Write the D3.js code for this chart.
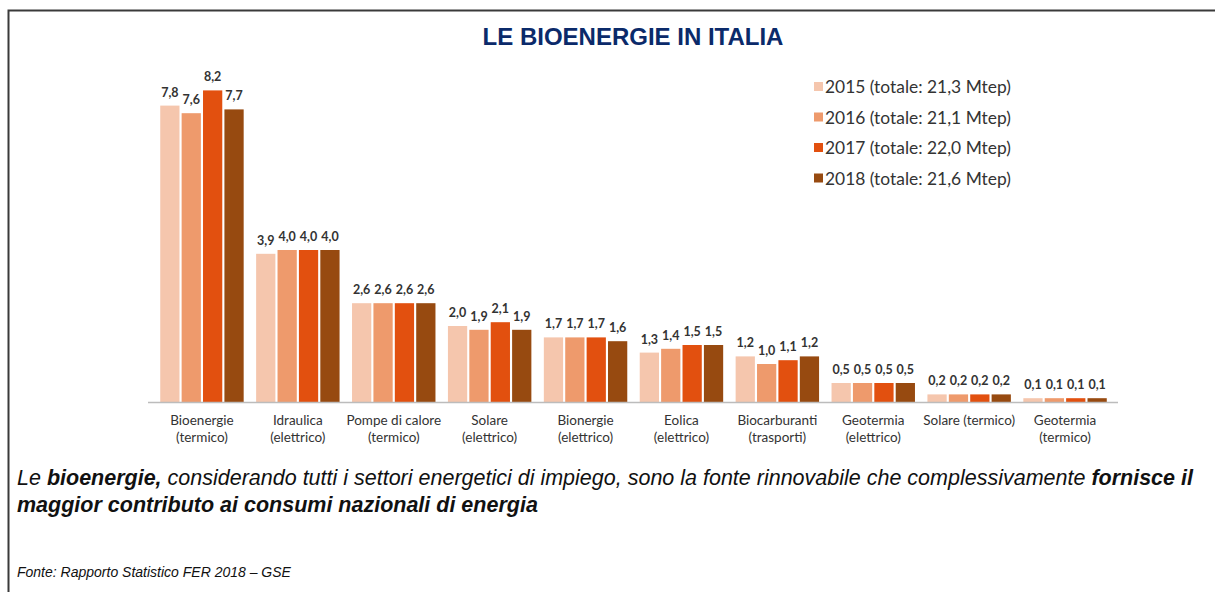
<!DOCTYPE html>
<html>
<head>
<meta charset="utf-8">
<script src="https://cdn.jsdelivr.net/npm/d3@7"></script>
<style>
  html, body { margin: 0; padding: 0; background: #fff; }
  svg { display: block; }
</style>
</head>
<body>
<div id="chart"></div>
<script>
// categories (two-line labels) and yearly values in Mtep
const categories = [
  ["Bioenergie", "(termico)"],
  ["Idraulica", "(elettrico)"],
  ["Pompe di calore", "(termico)"],
  ["Solare", "(elettrico)"],
  ["Bionergie", "(elettrico)"],
  ["Eolica", "(elettrico)"],
  ["Biocarburanti", "(trasporti)"],
  ["Geotermia", "(elettrico)"],
  ["Solare (termico)", ""],
  ["Geotermia", "(termico)"]
];
const years = ["2015", "2016", "2017", "2018"];
const totals = ["21,3", "21,1", "22,0", "21,6"];
const v2015 = [7.8, 3.9, 2.6, 2.0, 1.7, 1.3, 1.2, 0.5, 0.2, 0.1];
const v2016 = [7.6, 4.0, 2.6, 1.9, 1.7, 1.4, 1.0, 0.5, 0.2, 0.1];
const v2017 = [8.2, 4.0, 2.6, 2.1, 1.7, 1.5, 1.1, 0.5, 0.2, 0.1];
const v2018 = [7.7, 4.0, 2.6, 1.9, 1.6, 1.5, 1.2, 0.5, 0.2, 0.1];
const series = [v2015, v2016, v2017, v2018];
const colors = ["#f5c6ad", "#ee9a6c", "#e2500f", "#974a10"];

const width = 1215, height = 592;
const baseY = 402;

const svg = d3.select('#chart').append('svg')
    .attr('width', width)
    .attr('height', height);

// frame (top and left edge)
svg.append('path')
    .attr('d', `M8.5,${height} V10.5 H${width}`)
    .attr('fill', 'none')
    .attr('stroke', '#3a3a3a')
    .attr('stroke-width', 2);

// title
svg.append('text')
    .attr('x', 633).attr('y', 45)
    .attr('text-anchor', 'middle')
    .attr('font-family', 'Liberation Sans, Arial, sans-serif')
    .attr('font-weight', 'bold')
    .attr('font-size', 24)
    .attr('fill', '#0b2a6a')
    .text('LE BIOENERGIE IN ITALIA');

// scales
const x0 = d3.scaleBand()
    .domain(d3.range(categories.length))
    .range([154, 1113])
    .paddingInner(0.13)
    .paddingOuter(0.065);
const x1 = d3.scaleBand()
    .domain(years)
    .range([0, x0.bandwidth()])
    .paddingInner(0.1);
const y = d3.scaleLinear()
    .domain([0, 8.2])
    .range([baseY, baseY - 8.2 * 38]);

const fmt = v => d3.format('.1f')(v).replace('.', ',');

const groups = svg.append('g').selectAll('g.cat')
    .data(categories)
    .join('g')
    .attr('class', 'cat')
    .attr('transform', (d, i) => `translate(${x0(i)},0)`);

groups.selectAll('rect')
    .data((d, i) => years.map((yr, j) => ({yr, j, v: series[j][i]})))
    .join('rect')
    .attr('x', d => x1(d.yr))
    .attr('y', d => y(d.v))
    .attr('width', x1.bandwidth())
    .attr('height', d => baseY - y(d.v))
    .attr('fill', d => colors[d.j]);

groups.selectAll('text.val')
    .data((d, i) => years.map((yr, j) => ({yr, j, v: series[j][i]})))
    .join('text')
    .attr('class', 'val')
    .attr('x', d => x1(d.yr) + x1.bandwidth() / 2)
    .attr('y', d => y(d.v) - 9)
    .attr('text-anchor', 'middle')
    .attr('font-family', 'Lato, sans-serif')
    .attr('font-weight', 'bold')
    .attr('font-size', 12.5)
    .attr('fill', '#333')
    .text(d => fmt(d.v));

// axis baseline
svg.append('line')
    .attr('x1', 148).attr('x2', 1118)
    .attr('y1', baseY + 0.5).attr('y2', baseY + 0.5)
    .attr('stroke', '#bcbcbc')
    .attr('stroke-width', 1.5);

// category labels
const catText = groups.append('text')
    .attr('x', x0.bandwidth() / 2)
    .attr('y', 425)
    .attr('text-anchor', 'middle')
    .attr('font-family', 'Lato, sans-serif')
    .attr('font-size', 13.5)
    .attr('fill', '#333');
catText.append('tspan').attr('x', x0.bandwidth() / 2).text(d => d[0]);
catText.append('tspan').attr('x', x0.bandwidth() / 2).attr('dy', 17).text(d => d[1]);

// legend
const legend = svg.append('g').selectAll('g')
    .data(years)
    .join('g')
    .attr('transform', (d, i) => `translate(814,${87 + i * 30.5})`);
legend.append('rect')
    .attr('x', 0).attr('y', -5)
    .attr('width', 9).attr('height', 9)
    .attr('fill', (d, i) => colors[i]);
legend.append('text')
    .attr('x', 11).attr('y', 6)
    .attr('font-family', 'Lato, sans-serif')
    .attr('font-size', 17.4)
    .attr('fill', '#333')
    .text((d, i) => `${d} (totale: ${totals[i]} Mtep)`);

// caption
const cap = svg.append('text')
    .attr('x', 17).attr('y', 485)
    .attr('font-family', 'Liberation Sans, Arial, sans-serif')
    .attr('font-style', 'italic')
    .attr('font-size', 21.5)
    .attr('fill', '#111');
cap.append('tspan').text('Le ');
cap.append('tspan').attr('font-weight', 'bold').text('bioenergie,');
cap.append('tspan').text(' considerando tutti i settori energetici di impiego, sono la fonte rinnovabile che complessivamente ');
cap.append('tspan').attr('font-weight', 'bold').text('fornisce il');

svg.append('text')
    .attr('x', 17).attr('y', 512)
    .attr('font-family', 'Liberation Sans, Arial, sans-serif')
    .attr('font-style', 'italic')
    .attr('font-weight', 'bold')
    .attr('font-size', 21.5)
    .attr('fill', '#111')
    .text('maggior contributo ai consumi nazionali di energia');

svg.append('text')
    .attr('x', 17).attr('y', 577)
    .attr('font-family', 'Liberation Sans, Arial, sans-serif')
    .attr('font-style', 'italic')
    .attr('font-size', 14)
    .attr('fill', '#111')
    .text('Fonte: Rapporto Statistico FER 2018 \u2013 GSE');
</script>
</body>
</html>
